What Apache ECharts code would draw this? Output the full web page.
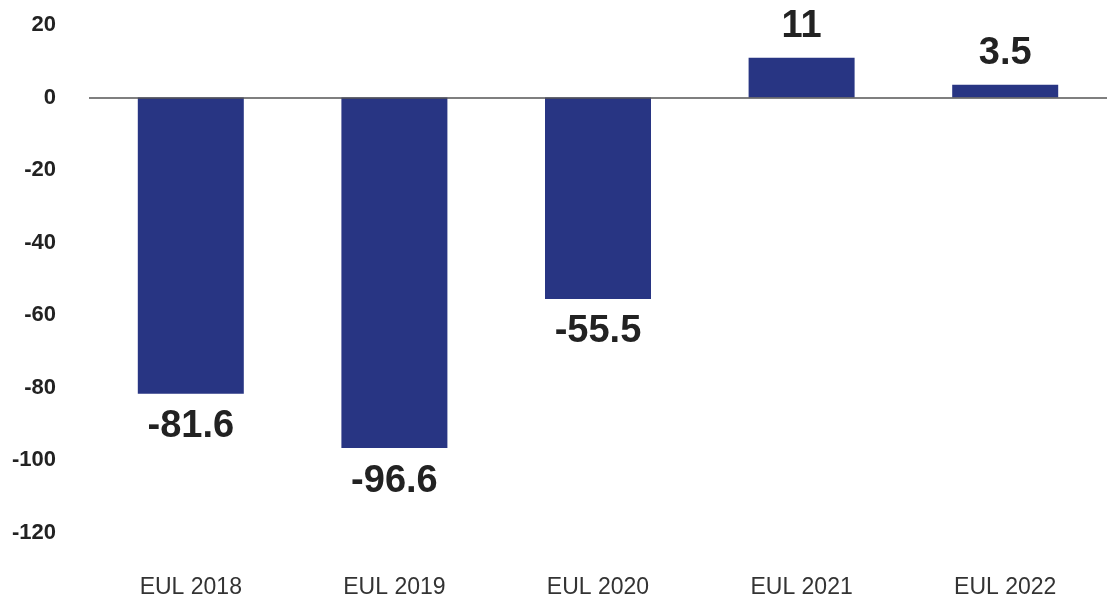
<!DOCTYPE html>
<html>
<head>
<meta charset="utf-8">
<script src="https://cdn.jsdelivr.net/npm/echarts@6/dist/echarts.min.js"></script>
<style>
  html, body { margin: 0; padding: 0; background: #fff; }
  #chart { width: 1107px; height: 599px; }
</style>
</head>
<body>
<div id="chart"></div>
<script>
// Yearly results per EUL round
const categories = ['EUL 2018', 'EUL 2019', 'EUL 2020', 'EUL 2021', 'EUL 2022'];
const values = [-81.6, -96.6, -55.5, 11, 3.5];
const yTicks = [-120, -100, -80, -60, -40, -20, 0, 20];

const barColor = '#283583';
const fontFamily = '"Liberation Sans", Arial, Helvetica, sans-serif';

const chart = echarts.init(document.getElementById('chart'), null, { renderer: 'canvas' });

chart.setOption({
  animation: false,
  backgroundColor: '#ffffff',
  grid: { left: 89, top: 25, width: 1032, bottom: 64, containLabel: false },
  xAxis: {
    type: 'category',
    data: categories,
    axisLine: { show: false },
    axisTick: { show: false },
    axisLabel: { margin: 43, fontSize: 23, color: '#333', fontFamily: fontFamily }
  },
  yAxis: {
    type: 'value',
    min: yTicks[0],
    max: yTicks[yTicks.length - 1],
    interval: 20,
    axisLine: { show: false },
    axisTick: { show: false },
    splitLine: { show: false },
    axisLabel: { margin: 33, fontSize: 22, fontWeight: 'bold', color: '#222', fontFamily: fontFamily }
  },
  series: [{
    type: 'bar',
    barWidth: 106,
    itemStyle: { color: barColor },
    data: values.map(v => ({
      value: v,
      label: { position: v < 0 ? 'bottom' : 'top', distance: v < 0 ? 14 : 12 }
    })),
    label: {
      show: true,
      fontSize: 38,
      fontWeight: 'bold',
      color: '#222',
      fontFamily: fontFamily
    },
    markLine: {
      silent: true,
      symbol: 'none',
      label: { show: false },
      lineStyle: { color: '#555', width: 1.5, type: 'solid' },
      data: [{ yAxis: 0 }]
    }
  }]
});
</script>
</body>
</html>
